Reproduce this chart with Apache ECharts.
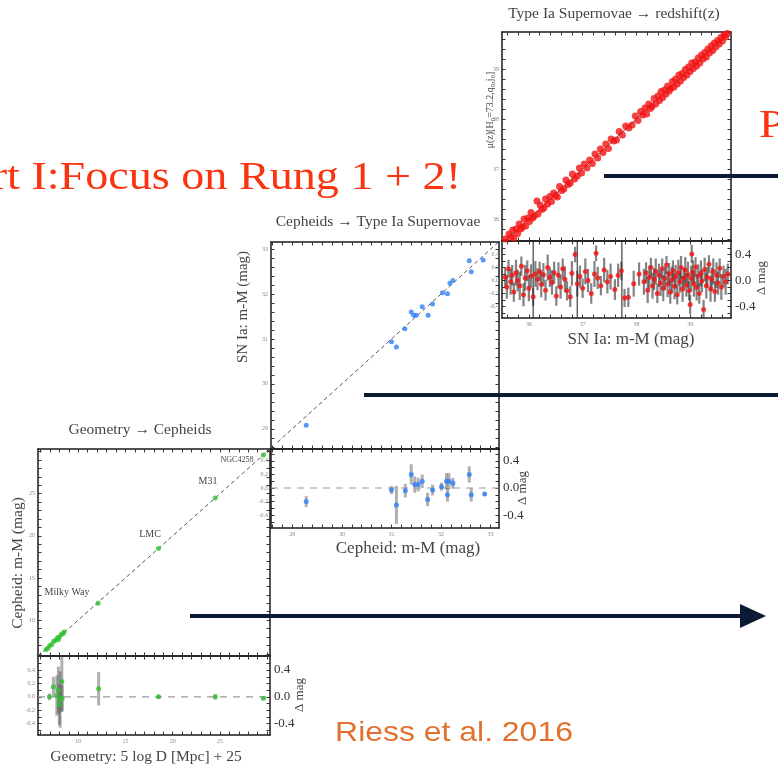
<!DOCTYPE html>
<html><head><meta charset="utf-8">
<script src="https://cdn.jsdelivr.net/npm/echarts@6/dist/echarts.min.js"></script>
<style>html,body{margin:0;padding:0;background:#fff}#c{width:778px;height:767px}</style>
</head><body><div id="c"></div>
<script>
// ---------- DATA ----------
// Panel 1: Geometry -> Cepheids
const p1Range = [5.74, 30.3];
const p1Labels = [10, 15, 20, 25];
const p1Points = [[6.6,6.5],[6.8,6.7],[7.0,7.0],[7.2,7.1],[7.4,7.5],[7.6,7.6],[7.8,7.9],[7.9,7.7],[8.0,8.0],[8.2,8.3],[8.4,8.4],[8.5,8.6],[12.1,12.0],[18.5,18.5],[24.5,24.5],[29.6,29.6]];
const p1Resid = [[6.95,0.0,0.05],[7.37,0.15,0.15],[7.73,0.02,0.3],[7.9,0.1,0.35],[8.0,-0.12,0.3],[8.08,-0.04,0.42],[8.26,0.23,0.45],[8.3,-0.02,0.2],[12.16,0.12,0.25],[18.5,0.0,0.03],[24.5,0.0,0.04],[29.6,-0.02,0.03]];
const p1Names = ['Milky Way','LMC','M31','NGC4258'];
const p1ResRange = [-0.57, 0.61];

// Panel 2: Cepheids -> Type Ia Supernovae
const p2XRange = [28.57, 33.17];
const p2YRange = [28.55, 33.16];
const p2Labels = [29, 30, 31, 32, 33];
const p2Points = [[29.28,29.08],[31.0,30.94],[31.1,30.82],[31.27,31.23],[31.4,31.6],[31.45,31.53],[31.5,31.53],[31.62,31.72],[31.74,31.53],[31.83,31.78],[32.03,32.03],[32.13,32.01],[32.18,32.24],[32.24,32.3],[32.57,32.74],[32.61,32.5],[32.85,32.76]];
const p2Resid = [[29.28,-0.2,0.08],[31.0,-0.03,0.06],[31.1,-0.25,0.28],[31.28,-0.04,0.1],[31.4,0.2,0.15],[31.47,0.05,0.12],[31.54,0.05,0.1],[31.62,0.1,0.1],[31.73,-0.17,0.1],[31.83,-0.03,0.08],[32.01,0.02,0.06],[32.11,0.1,0.12],[32.16,0.1,0.12],[32.13,-0.1,0.1],[32.24,0.07,0.08],[32.57,0.2,0.12],[32.61,-0.1,0.1],[32.88,-0.09,0.03]];
const p2ResRange = [-0.59, 0.575];

// Panel 3: Type Ia Supernovae -> redshift
const p3XRange = [35.5, 39.76];
const p3YRange = [35.56, 39.74];
const p3Labels = [36, 37, 38, 39];
const p3Points = [[35.56,35.60],[35.60,35.52],[35.63,35.70],[35.67,35.64],[35.70,35.78],[35.72,35.62],[35.76,35.80],[35.79,35.71],[35.82,35.90],[35.85,35.80],[35.88,35.84],[35.91,36.00],[35.94,35.86],[35.98,36.02],[36.01,35.95],[36.04,36.13],[36.07,36.02],[36.10,36.06],[36.15,36.36],[36.17,36.10],[36.21,36.28],[36.24,36.19],[36.28,36.22],[36.31,36.40],[36.35,36.30],[36.39,36.45],[36.42,36.35],[36.46,36.52],[36.50,36.47],[36.53,36.44],[36.57,36.65],[36.61,36.57],[36.65,36.60],[36.69,36.78],[36.73,36.69],[36.77,36.72],[36.81,36.90],[36.85,36.80],[36.90,36.86],[36.94,37.02],[36.98,36.92],[37.03,37.10],[37.08,37.02],[37.13,37.18],[37.18,37.11],[37.23,37.30],[37.28,37.22],[37.33,37.40],[37.38,37.33],[37.43,37.50],[37.48,37.41],[37.53,37.60],[37.58,37.56],[37.63,37.58],[37.68,37.75],[37.74,37.68],[37.80,37.86],[37.86,37.82],[37.92,37.88],[37.98,38.06],[38.03,37.97],[38.08,38.15],[38.12,38.08],[38.16,38.22],[38.19,38.10],[38.23,38.30],[38.26,38.21],[38.29,38.25],[38.33,38.41],[38.36,38.30],[38.40,38.46],[38.43,38.37],[38.46,38.55],[38.49,38.43],[38.52,38.58],[38.55,38.50],[38.58,38.66],[38.61,38.56],[38.64,38.61],[38.67,38.75],[38.70,38.64],[38.73,38.80],[38.76,38.70],[38.79,38.88],[38.82,38.76],[38.85,38.91],[38.88,38.83],[38.91,38.99],[38.94,38.88],[38.97,39.04],[39.00,38.95],[39.03,39.12],[39.06,39.01],[39.09,39.14],[39.12,39.06],[39.15,39.22],[39.18,39.12],[39.21,39.28],[39.24,39.20],[39.27,39.33],[39.30,39.24],[39.33,39.40],[39.36,39.32],[39.39,39.46],[39.42,39.37],[39.45,39.52],[39.48,39.44],[39.51,39.57],[39.54,39.50],[39.57,39.63],[39.60,39.56],[39.63,39.68],[39.66,39.64],[39.69,39.71]];
const p3Resid = [[35.56,0.05,0.15],[35.59,-0.10,0.18],[35.62,0.18,0.14],[35.66,-0.02,0.20],[35.69,0.08,0.16],[35.72,-0.18,0.15],[35.76,0.12,0.20],[35.79,0.00,0.17],[35.83,-0.08,0.22],[35.86,0.22,0.15],[35.90,-0.22,0.18],[35.93,0.04,0.20],[35.97,0.15,0.16],[36.00,-0.12,0.20],[36.04,0.07,0.18],[36.08,-0.25,0.14],[36.12,0.10,0.20],[36.16,0.02,0.17],[36.20,0.14,0.15],[36.23,-0.06,0.20],[36.27,0.09,0.18],[36.31,-0.15,0.16],[36.35,0.20,0.20],[36.39,0.05,0.15],[36.43,-0.03,0.19],[36.47,0.12,0.17],[36.51,-0.24,0.15],[36.55,0.08,0.20],[36.59,-0.10,0.18],[36.63,0.18,0.16],[36.67,0.02,0.20],[36.71,-0.16,0.15],[36.77,-0.25,0.16],[36.80,0.11,0.19],[36.86,0.40,0.12],[36.90,-0.05,0.20],[36.95,0.06,0.17],[37.00,-0.12,0.15],[37.05,0.14,0.20],[37.10,0.00,0.18],[37.16,-0.20,0.16],[37.22,0.10,0.20],[37.25,0.42,0.12],[37.28,0.04,0.17],[37.34,-0.08,0.15],[37.40,0.16,0.19],[37.46,-0.02,0.18],[37.52,0.06,0.20],[37.60,-0.14,0.16],[37.66,0.08,0.18],[37.72,0.15,0.14],[37.78,-0.27,0.14],[37.85,-0.26,0.15],[37.95,-0.05,0.2],[38.05,0.10,0.18],[38.14,-0.02,0.2],[38.18,0.12,0.16],[38.21,-0.15,0.2],[38.24,0.05,0.18],[38.27,0.20,0.15],[38.30,-0.08,0.2],[38.33,0.02,0.17],[38.36,0.14,0.2],[38.39,-0.20,0.15],[38.42,0.08,0.18],[38.45,-0.04,0.2],[38.48,0.18,0.16],[38.50,-0.12,0.2],[38.53,0.03,0.18],[38.56,0.24,0.14],[38.58,-0.06,0.2],[38.61,0.10,0.17],[38.63,-0.18,0.18],[38.66,0.01,0.2],[38.68,0.15,0.16],[38.71,-0.09,0.2],[38.73,0.06,0.18],[38.76,-0.22,0.15],[38.78,0.12,0.2],[38.81,-0.02,0.17],[38.83,0.20,0.18],[38.86,-0.13,0.2],[38.88,0.04,0.16],[38.91,0.16,0.2],[38.93,-0.07,0.18],[38.96,0.09,0.2],[38.98,-0.16,0.15],[39.00,-0.37,0.15],[39.02,0.03,0.2],[39.03,0.41,0.14],[39.05,0.13,0.18],[39.07,-0.05,0.2],[39.10,0.21,0.15],[39.12,-0.11,0.2],[39.15,0.07,0.18],[39.17,-0.20,0.16],[39.20,0.11,0.2],[39.22,-0.01,0.17],[39.25,-0.45,0.15],[39.27,0.17,0.18],[39.30,-0.08,0.2],[39.32,0.05,0.16],[39.35,0.25,0.14],[39.38,-0.13,0.2],[39.40,0.02,0.18],[39.43,0.14,0.2],[39.46,-0.17,0.16],[39.49,0.08,0.2],[39.52,-0.04,0.18],[39.55,0.19,0.15],[39.58,-0.10,0.2],[39.62,0.06,0.17],[39.66,-0.02,0.2],[39.70,0.10,0.16]];
const p3ResLong = [[36.08,0,0.8],[36.9,0,0.8],[37.73,0,0.8]];
const p3ResRange = [-0.58, 0.61];

const resLabels = [-0.4, -0.2, 0, 0.2, 0.4];
const resRightLabels = [-0.4, 0, 0.4];

// ---------- helpers ----------
function steps(a, b, s) { const o = []; for (let v = a; v <= b + 1e-9; v += s) o.push(Math.round(v * 1000) / 1000); return o; }
const SERIF = '"Liberation Serif", "DejaVu Serif", serif';

const grids = [
  {left: 38, top: 449, width: 232, height: 207},
  {left: 38, top: 656, width: 232, height: 79},
  {left: 271, top: 242, width: 228, height: 207},
  {left: 271, top: 449, width: 228, height: 79},
  {left: 502, top: 32, width: 229, height: 209},
  {left: 502, top: 241, width: 229, height: 77}
];

function axis(grid, pos, range, ticks, labels, labelOpt) {
  return {
    type: 'value', gridIndex: grid, position: pos, min: range[0], max: range[1],
    axisLine: {show: true, onZero: false, lineStyle: {color: '#1a1a1a', width: 1.5}},
    axisTick: {show: true, inside: true, length: 3.5, customValues: ticks, lineStyle: {color: '#333', width: 1}},
    axisLabel: labels ? Object.assign({show: true, customValues: labels, fontSize: 6, color: '#888', margin: 3, fontFamily: SERIF}, labelOpt || {}) : {show: false},
    splitLine: {show: false}
  };
}
const resFmt = v => (Math.abs(v) < 1e-9 ? '0.0' : v.toFixed(1));
const bigRes = {fontSize: 13, color: '#333', margin: 4, formatter: resFmt};
const smallRes = {formatter: resFmt};

const p1T = steps(6, 30, 1), p2T = steps(28.6, 33.2, 0.2), p3T = steps(35.6, 39.6, 0.2), rT = steps(-0.5, 0.6, 0.1);

const xAxes = [
  axis(0, 'bottom', p1Range, p1T, null), axis(0, 'top', p1Range, p1T, null),
  axis(1, 'bottom', p1Range, p1T, p1Labels), axis(1, 'top', p1Range, p1T, null),
  axis(2, 'bottom', p2XRange, p2T, null), axis(2, 'top', p2XRange, p2T, null),
  axis(3, 'bottom', p2XRange, p2T, p2Labels), axis(3, 'top', p2XRange, p2T, null),
  axis(4, 'bottom', p3XRange, p3T, null), axis(4, 'top', p3XRange, p3T, null),
  axis(5, 'bottom', p3XRange, p3T, p3Labels), axis(5, 'top', p3XRange, p3T, null)
];
const yAxes = [
  axis(0, 'left', p1Range, p1T, p1Labels), axis(0, 'right', p1Range, p1T, null),
  axis(1, 'left', p1ResRange, rT, resLabels, smallRes), axis(1, 'right', p1ResRange, rT, resRightLabels, bigRes),
  axis(2, 'left', p2YRange, p2T, p2Labels), axis(2, 'right', p2YRange, p2T, null),
  axis(3, 'left', p2ResRange, rT, resLabels, smallRes), axis(3, 'right', p2ResRange, rT, resRightLabels, bigRes),
  axis(4, 'left', p3YRange, p3T, p3Labels), axis(4, 'right', p3YRange, p3T, null),
  axis(5, 'left', p3ResRange, rT, resLabels, smallRes), axis(5, 'right', p3ResRange, rT, resRightLabels, bigRes)
];

function errSeries(idx, data, color, width) {
  return {
    type: 'custom', xAxisIndex: idx, yAxisIndex: idx, clip: true, silent: true,
    data: data,
    renderItem: function (params, api) {
      const x = api.value(0), y = api.value(1), e = api.value(2);
      const a = api.coord([x, y - e]), b = api.coord([x, y + e]);
      return {type: 'line', shape: {x1: a[0], y1: a[1], x2: b[0], y2: b[1]}, style: {stroke: color, lineWidth: width}};
    }
  };
}
function scatter(idx, data, color, size) {
  return {type: 'scatter', xAxisIndex: idx, yAxisIndex: idx, data: data.map(d => [d[0], d[1]]), symbolSize: size, itemStyle: {color: color}, silent: true, z: 5};
}
function refLine(idx, pts, color, dash, width) {
  return {type: 'line', xAxisIndex: idx, yAxisIndex: idx, data: pts, symbol: 'none', silent: true,
    lineStyle: {color: color, type: dash, width: width}, z: 3};
}

const GREEN = '#2ec02e', BLUE = '#2f7ff5', RED = '#f21414';

const series = [
  refLine(0, [[p1Range[0], p1Range[0]], [p1Range[1], p1Range[1]]], '#555', [4, 3], 1),
  scatter(0, p1Points, GREEN, 5),
  refLine(2, [[p1Range[0], 0], [p1Range[1], 0]], '#999', [7, 6], 1.2),
  errSeries(2, p1Resid, 'rgba(80,80,80,0.45)', 3),
  scatter(2, p1Resid, GREEN, 5),

  refLine(4, [[28.7, 28.7], [p2XRange[1], p2XRange[1]]], '#555', [4, 3], 1),
  scatter(4, p2Points, BLUE, 5),
  refLine(6, [[p2XRange[0], 0], [p2XRange[1], 0]], '#999', [7, 6], 1.2),
  errSeries(6, p2Resid, 'rgba(80,80,80,0.45)', 3),
  scatter(6, p2Resid, BLUE, 5),

  scatter(8, p3Points, RED, 7),
  refLine(8, [[p3XRange[0], p3XRange[0]], [p3XRange[1], p3XRange[1]]], '#333', 'solid', 1),
  errSeries(10, p3ResLong, 'rgba(30,30,30,0.85)', 1.2),
  errSeries(10, p3Resid, 'rgba(30,30,30,0.55)', 2.2),
  scatter(10, p3Resid, RED, 5)
];

function txt(x, y, text, font, fill, rot, align, sx) {
  return {type: 'text', x: x, y: y, rotation: rot || 0, scaleX: sx || 1, silent: true, z: 10,
    style: {text: text, font: font, fill: fill, textAlign: align || 'center', textVerticalAlign: 'middle', align: align || 'center', verticalAlign: 'middle'}};
}
const R90 = Math.PI / 2;
const graphics = [
  // panel titles
  txt(140, 430, 'Geometry → Cepheids', '15.5px ' + SERIF, '#444'),
  txt(378, 222, 'Cepheids → Type Ia Supernovae', '15.5px ' + SERIF, '#444'),
  txt(614, 14, 'Type Ia Supernovae → redshift(z)', '15.5px ' + SERIF, '#444'),
  // axis names
  txt(146, 757, 'Geometry: 5 log D [Mpc] + 25', '15.5px ' + SERIF, '#444'),
  txt(408, 549, 'Cepheid: m-M (mag)', '17px ' + SERIF, '#444'),
  txt(631, 340, 'SN Ia: m-M (mag)', '17px ' + SERIF, '#444'),
  txt(18, 563, 'Cepheid: m-M (mag)', '15.5px ' + SERIF, '#444', R90),
  txt(243, 307, 'SN Ia: m-M (mag)', '15px ' + SERIF, '#444', R90),
  txt(490, 110, 'μ(z)[H₀=73.2,q₀,j₀]', '10px ' + SERIF, '#444', R90),
  txt(300, 695, 'Δ mag', '13px ' + SERIF, '#444', R90),
  txt(523, 488, 'Δ mag', '13px ' + SERIF, '#444', R90),
  txt(762, 278, 'Δ mag', '13px ' + SERIF, '#444', R90),
  // object labels
  txt(67, 592, p1Names[0], '10px ' + SERIF, '#444'),
  txt(150, 534, p1Names[1], '10px ' + SERIF, '#444'),
  txt(208, 481, p1Names[2], '10px ' + SERIF, '#444'),
  txt(237, 460, p1Names[3], '8px ' + SERIF, '#444'),
  // slide elements
  txt(461, 178, 'Part I:Focus on Rung 1 + 2!', '41px ' + SERIF, '#fa3411', 0, 'right', 1.125),
  txt(759, 126, 'Part II', '41px ' + SERIF, '#fa3411', 0, 'left', 1.125),
  txt(454, 733, 'Riess et al. 2016', '28px "Liberation Sans", Arial, sans-serif', '#e2712f', 0, 'center', 1.14),
  {type: 'line', silent: true, z: 20, shape: {x1: 604, y1: 176, x2: 778, y2: 176}, style: {stroke: '#0c1a33', lineWidth: 4}},
  {type: 'line', silent: true, z: 20, shape: {x1: 364, y1: 395, x2: 778, y2: 395}, style: {stroke: '#0c1a33', lineWidth: 4}},
  {type: 'line', silent: true, z: 20, shape: {x1: 190, y1: 616, x2: 745, y2: 616}, style: {stroke: '#0c1a33', lineWidth: 4}},
  {type: 'polygon', silent: true, z: 20, shape: {points: [[740, 604], [766, 616], [740, 628]]}, style: {fill: '#0c1a33'}}
];

const chart = echarts.init(document.getElementById('c'), null, {renderer: 'canvas'});
chart.setOption({
  animation: false,
  backgroundColor: '#fff',
  grid: grids,
  xAxis: xAxes,
  yAxis: yAxes,
  series: series,
  graphic: graphics
});
</script></body></html>
